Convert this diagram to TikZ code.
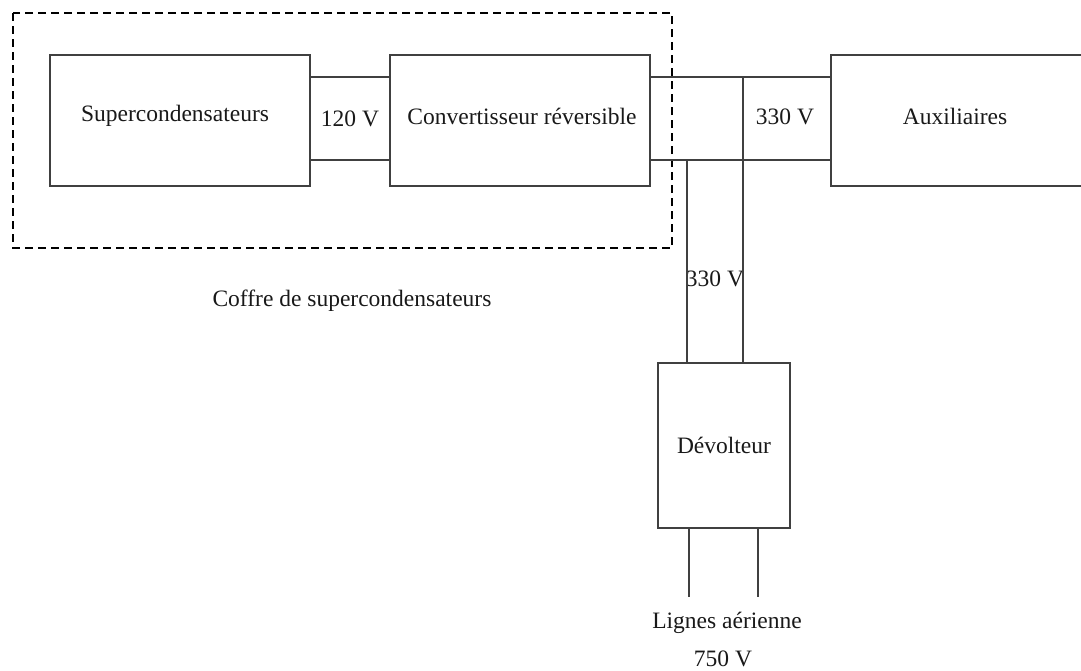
\documentclass[tikz,border=0pt]{standalone}
\usepackage{fontspec}
\setmainfont{Liberation Serif}
\begin{document}
\begin{tikzpicture}[x=1pt,y=-1pt,
  box/.style={draw=black!75,line width=1.2pt,minimum width=#1,inner sep=0pt,outer sep=0pt},
  wire/.style={draw=black!75,line width=1.2pt},
  lbl/.style={font=\fontsize{23.5}{26}\selectfont,inner sep=0pt,text=black!90},
  frame/.style={draw=black,line width=1.8pt,dash pattern=on 8pt off 5pt}]
\useasboundingbox (0,0) rectangle (1081,670);
% boxes
\node[box=260pt,minimum height=131pt] (sc) at (180,120.5) {};
\node[box=260pt,minimum height=131pt] (cv) at (520,120.5) {};
\node[box=260pt,minimum height=131pt] (aux) at (961,120.5) {};
\node[box=132pt,minimum height=165pt] (dv) at (724,445.5) {};
% dashed frame
\draw[frame] (13,13) rectangle (672,248);
% texts
\node[lbl] (tsc) at (175,116) {Supercondensateurs};
\node[lbl] (tcv) at (522,116) {Convertisseur réversible};
\node[lbl] (taux) at (955,116) {Auxiliaires};
\node[lbl] (tdv) at (724,445) {Dévolteur};
\node[lbl] (v120) at (350,119) {120 V};
\node[lbl] (v330a) at (785,117) {330 V};
\node[lbl] (v330b) at (715,279) {330 V};
\node[lbl] (coffre) at (352,301) {Coffre de supercondensateurs};
\node[lbl] (lignes) at (727,623) {Lignes aérienne};
\node[lbl] (v750) at (723,659) {750 V};
% coordinates
\coordinate (ya) at (0,77);
\coordinate (yb) at (0,160);
\coordinate (xa) at (743,0);
\coordinate (xb) at (687,0);
\coordinate (la) at (689,597);
\coordinate (lb) at (758,597);
% wires
\draw[wire] (sc.east|-ya) -- (cv.west|-ya);
\draw[wire] (sc.east|-yb) -- (cv.west|-yb);
\draw[wire] (cv.east|-ya) -- (aux.west|-ya);
\draw[wire] (cv.east|-yb) -- (aux.west|-yb);
\draw[wire] (xa|-ya) -- (xa|-dv.north);
\draw[wire] (xb|-yb) -- (xb|-dv.north);
\draw[wire] (la|-dv.south) -- (la);
\draw[wire] (lb|-dv.south) -- (lb);
\end{tikzpicture}
\end{document}
